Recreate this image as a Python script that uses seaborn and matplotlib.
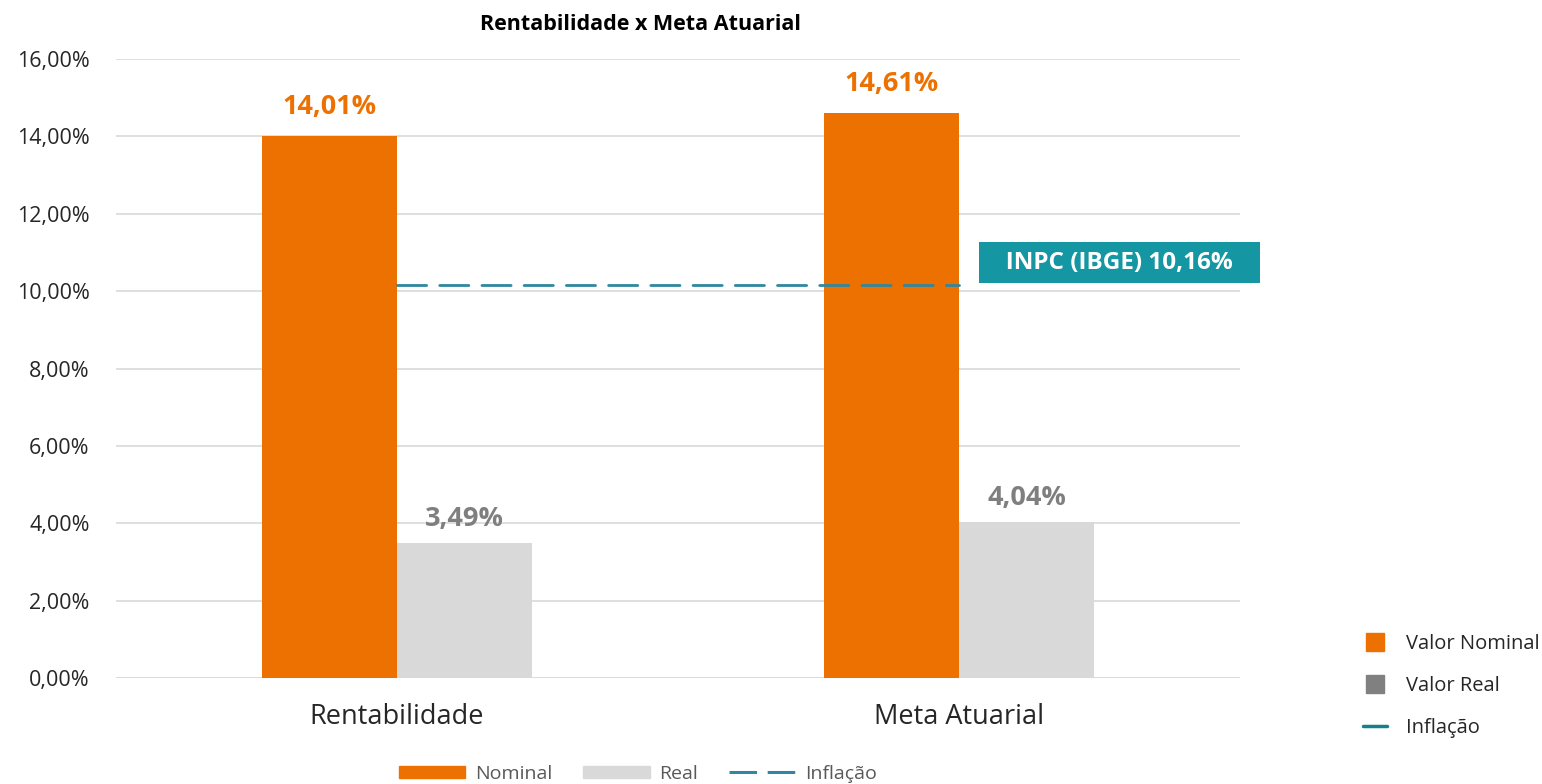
import numpy as np
import pandas as pd
import seaborn as sns
import matplotlib.pyplot as plt
from matplotlib.patches import Patch
from matplotlib.lines import Line2D

# dados do gráfico
categorias = ["Rentabilidade", "Meta Atuarial"]
nominal = [14.01, 14.61]
real = [3.49, 4.04]
inflacao = 10.16
y_ticks = [0, 2, 4, 6, 8, 10, 12, 14, 16]

laranja = "#ED7100"
cinza = "#D9D9D9"
cinza_txt = "#7F7F7F"
azul = "#2F87A0"
teal = "#1497A3"

df = pd.DataFrame({
    "categoria": categorias * 2,
    "serie": ["Nominal"] * 2 + ["Real"] * 2,
    "valor": nominal + real,
})

sns.set_theme(style="white")
plt.rcParams['font.family'] = ['Open Sans', 'DejaVu Sans']

fig = plt.figure(figsize=(15.42, 7.84), dpi=100)
ax = fig.add_axes([116 / 1542, 1 - 678 / 784, (1240 - 116) / 1542, (678 - 59) / 784])

sns.barplot(data=df, x="categoria", y="valor", hue="serie",
            palette=[laranja, cinza], width=0.48, saturation=1,
            linewidth=0, ax=ax, legend=False)

# linha da inflação entre os centros das categorias
ax.plot([0, 1], [inflacao, inflacao], color=azul, lw=2,
        dashes=(10.5, 4.7), solid_capstyle="round", dash_capstyle="round", zorder=3)

# rótulos das barras
for i, v in enumerate(nominal):
    ax.text(i - 0.12, v + 0.42, f"{v:.2f}%".replace(".", ","), ha="center",
            va="bottom", fontsize=19.5, fontweight="bold", color=laranja)
for i, v in enumerate(real):
    ax.text(i + 0.12, v + 0.28, f"{v:.2f}%".replace(".", ","), ha="center",
            va="bottom", fontsize=19.5, fontweight="bold", color=cinza_txt)

# caixa INPC
ax.text(1.286, 10.73, "   " + f"INPC (IBGE) {inflacao:.2f}%".replace(".", ",") + "   ",
        ha="center", va="center", fontsize=17.5, fontweight="bold", color="white",
        bbox=dict(boxstyle="square,pad=0.35", fc=teal, ec="none"), zorder=5)

ax.set_xlim(-0.5, 1.5)
ax.set_ylim(0, 16)
ax.set_yticks(y_ticks)
ax.set_yticklabels([f"{t:.2f}%".replace(".", ",") for t in y_ticks], fontsize=15.5)
ax.tick_params(axis="x", labelsize=19.5, pad=12)
ax.tick_params(axis="y", pad=19, length=0)
ax.set_xlabel("")
ax.set_ylabel("")
ax.grid(axis="y", color="#D9D9D9", lw=1.2)
ax.set_axisbelow(True)
sns.despine(ax=ax, left=True, bottom=True)
ax.axhline(0, color="#D9D9D9", lw=1.2, zorder=0)

fig.text(641 / 1542, 1 - 24 / 784, "Rentabilidade x Meta Atuarial",
         ha="center", va="center", fontsize=15.5, fontweight="bold", color="black")

# legenda inferior
handles_inf = [Patch(color=laranja, label="Nominal"),
               Patch(color=cinza, label="Real"),
               Line2D([0], [0], color=azul, lw=2.2, dashes=(9, 3.5), label="Inflação")]
fig.legend(handles=handles_inf, loc="center", bbox_to_anchor=(638 / 1542, 10 / 784),
           ncol=3, frameon=False, fontsize=14, handlelength=3.4, handleheight=0.6,
           handletextpad=0.5, columnspacing=1.6, labelcolor="#595959")

# legenda lateral
handles_lat = [Line2D([0], [0], marker="s", ls="none", color=laranja, ms=13, label="Valor Nominal"),
               Line2D([0], [0], marker="s", ls="none", color="#808080", ms=13, label="Valor Real"),
               Line2D([0], [0], color="#14808A", lw=2.5, label="Inflação")]
fig.legend(handles=handles_lat, loc="upper left", bbox_to_anchor=(1355 / 1542, 1 - 626 / 784),
           frameon=False, fontsize=14.5, handlelength=1.2, labelspacing=1.08,
           handletextpad=0.95, borderaxespad=0, labelcolor="#262626")

fig.savefig("out.png", dpi=100)
